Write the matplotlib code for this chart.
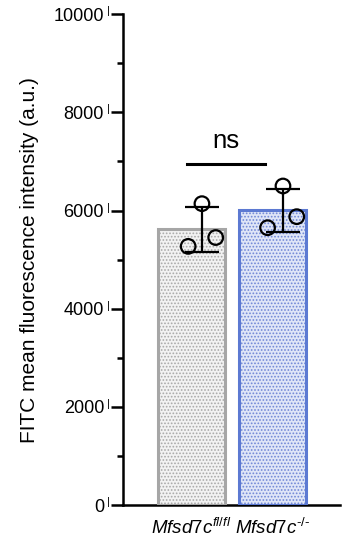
import numpy as np
import matplotlib
matplotlib.use('Agg')
import matplotlib.pyplot as plt

plt.rcParams['font.family'] = ['Liberation Sans', 'DejaVu Sans']
plt.rcParams['mathtext.fontset'] = 'custom'
plt.rcParams['mathtext.it'] = 'Liberation Sans:italic'
plt.rcParams['mathtext.rm'] = 'Liberation Sans'
plt.rcParams['hatch.linewidth'] = 0.8

###### DATA ##########
groups = [r'$Mfsd7c^{fl/fl}$', '$Mfsd7c^{\u2010/\u2010}$']
points = [[5270, 5450, 6140],
          [5650, 5875, 6500]]
yticks = [0, 2000, 4000, 6000, 8000, 10000]
sig_label = 'ns'
########################

fill_colors = ['#f2f2f2', '#dfe5f7']
dot_colors = ['#a8a8a8', '#6f86d6']
edge_colors = ['#a6a6a6', '#5c79d2']

fig = plt.figure(figsize=(3.53, 5.46), dpi=100)
ax = fig.add_axes([0.348, 0.075, 0.615, 0.899])

x = np.arange(len(groups))
means = [np.mean(p) for p in points]
sds = [np.std(p, ddof=1) for p in points]
width = 0.83

# fill, dots, border
ax.bar(x, means, width, color=fill_colors, edgecolor='none', zorder=1)
ax.bar(x, means, width, color='none', edgecolor=dot_colors, hatch='.....', lw=0, zorder=2)
ax.bar(x, means, width, color='none', edgecolor=edge_colors, lw=2.2, zorder=3)

# error bars
ax.errorbar(x + 0.13, means, yerr=sds, fmt='none', ecolor='black', elinewidth=1.6,
            capsize=12, capthick=1.6, zorder=4)

# individual points
offsets = [[-0.04, 0.30, 0.13], [-0.06, 0.30, 0.13]]
for i, p in enumerate(points):
    ax.scatter(x[i] + np.array(offsets[i]), p, s=110, facecolor='none',
               edgecolor='black', linewidth=1.6, zorder=5)

# significance
y_sig = 6950
ax.plot([-0.05, 0.91], [y_sig, y_sig], color='black', lw=2.2, zorder=5)
ax.text(0.43, y_sig + 330, sig_label, ha='center', va='baseline', fontsize=18.5)

ax.set_ylim(0, 10000)
ax.set_xlim(-0.846, 1.833)
ax.set_yticks(yticks)
ax.set_yticklabels([str(t) for t in yticks], fontsize=13)
ax.set_yticks(np.arange(1000, 10000, 2000), minor=True)
ax.tick_params(axis='y', which='major', length=8.5, width=1.8, pad=5)
ax.tick_params(axis='y', which='minor', length=4.5, width=1.8)
ax.set_xticks(x)
ax.set_xticklabels(groups, fontsize=13.5)
ax.tick_params(axis='x', length=0, pad=9)

# small marks next to the tick labels
for t in yticks:
    ax.text(-0.068, t + 60, '|', transform=ax.get_yaxis_transform(), ha='center',
            va='center', fontsize=8, color='black')

for s in ['top', 'right']:
    ax.spines[s].set_visible(False)
ax.spines['left'].set_linewidth(1.8)
ax.spines['bottom'].set_linewidth(1.8)

ax.set_ylabel('FITC mean fluorescence intensity (a.u.)', fontsize=15)
ax.yaxis.set_label_coords(-0.385, 0.5)

fig.savefig('out.png', dpi=100)
